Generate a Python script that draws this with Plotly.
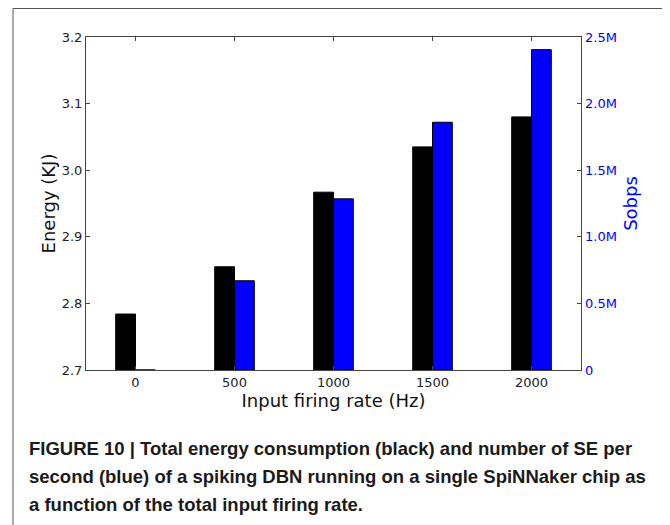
import plotly.graph_objects as go

rates = [0, 500, 1000, 1500, 2000]
energy_kj = [2.784, 2.855, 2.967, 3.035, 3.080]
sobps = [0, 670000, 1285000, 1860000, 2405000]

x_ticks = [0, 500, 1000, 1500, 2000]
y_ticks = [2.7, 2.8, 2.9, 3.0, 3.1, 3.2]
y_ticktext = ["2.7", "2.8", "2.9", "3.0", "3.1", "3.2"]
y2_ticks = [0, 500000, 1000000, 1500000, 2000000, 2500000]
y2_ticktext = ["0", "0.5M", "1.0M", "1.5M", "2.0M", "2.5M"]

caption_lines = [
    "FIGURE 10 | Total energy consumption (black) and number of SE per",
    "second (blue) of a spiking DBN running on a single SpiNNaker chip as",
    "a function of the total input firing rate.",
]

W, H = 662, 517
L, R, T, B = 78, 89, 29, 155
PW, PH = W - L - R, H - T - B

fig = go.Figure()
fig.add_trace(go.Bar(x=rates, y=[e - 2.7 for e in energy_kj], base=2.7,
                     width=100, offset=-100,
                     marker=dict(color="black", line=dict(color="black", width=1)),
                     yaxis="y", showlegend=False))
fig.add_trace(go.Bar(x=rates, y=sobps, width=100, offset=0,
                     marker=dict(color="#0000ff", line=dict(color="black", width=1)),
                     yaxis="y2", showlegend=False))

axis_font = dict(family="DejaVu Sans", size=13, color="#222222")
fig.update_layout(
    width=W, height=H,
    margin=dict(l=L, r=R, t=T, b=B, autoexpand=False),
    paper_bgcolor="white", plot_bgcolor="white",
    barmode="overlay",
    font=dict(family="DejaVu Sans"),
    xaxis=dict(range=[-250, 2250], tickvals=x_ticks, ticks="inside", ticklen=4,
               showline=True, linecolor="#444444", linewidth=1, mirror="ticks",
               showgrid=False, zeroline=False, tickfont=axis_font,
               title=dict(text="Input firing rate (Hz)", font=dict(size=18, color="#111111"), standoff=2)),
    yaxis=dict(range=[2.7, 3.2], tickvals=y_ticks, ticktext=y_ticktext, ticks="inside", ticklen=4,
               showline=True, linecolor="#444444", linewidth=1, mirror=True,
               showgrid=False, zeroline=False, tickfont=axis_font,
               title=dict(text="Energy (KJ)", font=dict(size=18, color="#111111"), standoff=1)),
    yaxis2=dict(range=[0, 2500000], tickvals=y2_ticks, ticktext=y2_ticktext,
                overlaying="y", side="right", ticks="inside", ticklen=4,
                showline=False, showgrid=False, zeroline=False, ticklabelstandoff=3,
                tickfont=dict(family="DejaVu Sans", size=13, color="#0000ff"),
                title=dict(text="Sobps", font=dict(size=18, color="#0000ff"), standoff=8)),
)

# outer frame (page coords: left 13, top 8, right 666)
fig.add_shape(type="rect", xref="paper", yref="paper",
              x0=(5 - L) / PW, x1=(658 - L) / PW, y0=-1.0, y1=1 + (T - 0.5) / PH,
              line=dict(color="#555555", width=1), fillcolor="rgba(0,0,0,0)", layer="below")

for i, line in enumerate(caption_lines):
    yc = 448 + 28.3 * i - 8  # page centre -> figure coords
    fig.add_annotation(text="<b>" + line + "</b>", xref="paper", yref="paper",
                       x=(27 - 8 - L) / PW, y=1 - (yc - T) / PH,
                       xanchor="left", yanchor="middle", align="left", showarrow=False,
                       font=dict(family="Liberation Sans", size=18.5, color="#1a1a1a"))

fig.write_html("out.html")
